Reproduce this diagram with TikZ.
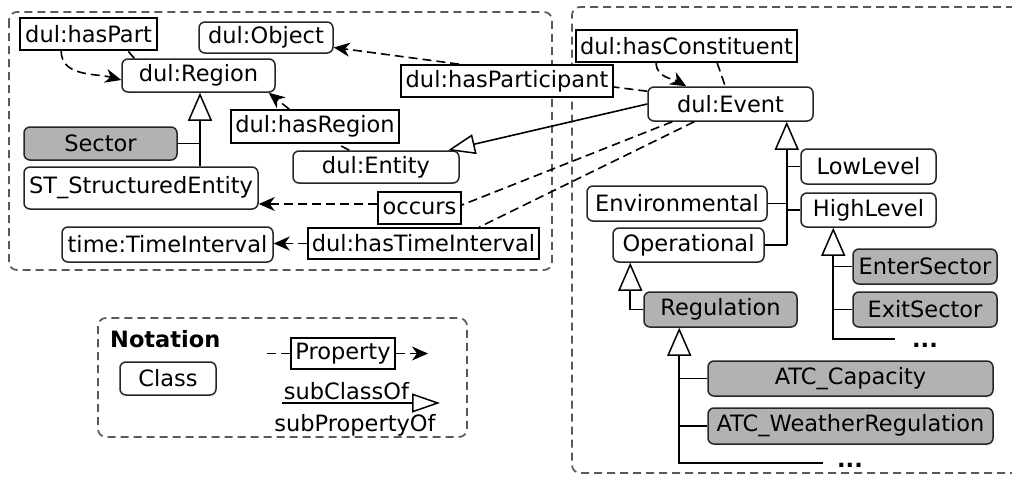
\documentclass[tikz,border=0pt]{standalone}
\usepackage{fontspec}
\setmainfont{DejaVu Sans}
\usetikzlibrary{arrows.meta}

\tikzset{
  txt/.style={font=\fontsize{22.5}{27}\selectfont, inner sep=0pt},
  sz/.style 2 args={minimum width=#1pt, minimum height=#2pt},
  cls/.style={txt, draw=black!85, rounded corners=6pt, fill=white, line width=1.5pt},
  term/.style={cls, fill=black!30},
  prop/.style={txt, draw=black, fill=white, line width=1.7pt},
  rel/.style={line width=1.6pt, dash pattern=on 9pt off 5pt},
  relto/.style={rel, -{Stealth[length=16pt,width=14pt,inset=5pt]}},
  tree/.style={line width=1.6pt},
  isa/.style={tree, -{Triangle[length=28pt,width=24pt,fill=white,line width=1.5pt]}},
  grpframe/.style={draw=black!65, line width=1.7pt, dash pattern=on 8pt off 5pt, rounded corners=8pt},
  dots/.style={font=\fontsize{22.5}{27}\selectfont\bfseries, inner sep=0pt, anchor=base},
}

\begin{document}
\begin{tikzpicture}[x=1pt, y=-1pt]
\fill[white] (0,0) rectangle (1012,479);
\useasboundingbox (0,0) rectangle (1012,479);
\clip (0,0) rectangle (1012,479);

% group frames
\draw[grpframe] (9,12) rectangle (552,270);
\draw[grpframe] (1040,7) -- (572,7) -- (572,473) -- (1040,473);
\draw[grpframe] (98,318) rectangle (467,437);

% ---- upper-level ontology part
\node[prop, sz={137}{32}] (hpart) at (88.5,34) {dul:hasPart};
\node[cls, sz={134}{31}] (obj) at (266,37.5) {dul:Object};
\node[cls, sz={153}{33}] (reg) at (198.5,75.5) {dul:Region};
\node[prop, sz={212}{32}] (hpar) at (507,81) {dul:hasParticipant};
\node[prop, sz={168}{33}] (hreg) at (315,126.5) {dul:hasRegion};
\node[cls, sz={166}{32}] (ent) at (376,167) {dul:Entity};
\node[term, sz={153}{33}] (sec) at (100.5,143.5) {Sector};
\node[cls, sz={234}{42}] (st) at (141,188) {ST\_StructuredEntity};
\node[prop, sz={83}{32}] (occ) at (419.5,208) {occurs};
\node[cls, sz={211}{35}] (ti) at (167.5,244.5) {time:TimeInterval};
\node[prop, sz={231}{31}] (hti) at (423.5,243.5) {dul:hasTimeInterval};

% ---- event taxonomy
\node[prop, sz={221}{32}] (hcon) at (686.5,46) {dul:hasConstituent};
\node[cls, sz={165}{34}] (ev) at (730.5,104) {dul:Event};
\node[cls, sz={135}{35}] (low) at (868.5,166.5) {LowLevel};
\node[cls, sz={135}{34}] (high) at (868.5,210) {HighLevel};
\node[cls, sz={180}{35}] (env) at (677,203.5) {Environmental};
\node[cls, sz={151}{34}] (op) at (688.5,245) {Operational};
\node[term, sz={144}{35}] (enter) at (925,266.5) {EnterSector};
\node[term, sz={144}{35}] (exit) at (925,309.5) {ExitSector};
\node[term, sz={153}{35}] (regu) at (720.5,309.5) {Regulation};
\node[term, sz={285}{35}] (cap) at (850.5,378.5) {ATC\_Capacity};
\node[term, sz={285}{36}] (wea) at (850.5,426) {ATC\_WeatherRegulation};
\node[dots] (more1) at (925,347) {...};
\node[dots] (more2) at (850,467) {...};

% ---- properties
\draw[rel] ([xshift=13pt]reg.north west) -- ([xshift=-30pt]hpart.south east);
\draw[relto] ([xshift=42pt]hpart.south west) to[out=-90,in=165] ([yshift=-4.5pt]reg.west);

\draw[rel] ([yshift=-5pt]ev.north west) -- ([yshift=-6pt]hpar.east);
\draw[relto] ([xshift=59pt]hpar.north west) -- ([yshift=-10pt]obj.east);

\draw[rel] ([xshift=57pt]ent.north west) -- ([xshift=107pt]hreg.south west);
\draw[relto] ([xshift=59pt]hreg.north west) -- ([xshift=-7pt]reg.south east);

\draw[rel] ([xshift=25pt]ev.south west) -- ([yshift=3pt]occ.east);
\draw[relto] ([yshift=4pt]occ.west) -- ([yshift=4pt]occ.west -| st.east);

\draw[rel] ([xshift=47pt]ev.south west) -- ([xshift=172pt]hti.north west);
\draw[relto] (hti.west) -- (hti.west -| ti.east);

\draw[relto] ([xshift=81pt]hcon.south west) to[out=-90,in=150] ([xshift=39pt]ev.north west);
\draw[rel] ([xshift=142pt]hcon.south west) -- ([xshift=78pt]ev.north west);

% ---- subclass links
\draw[tree, -{Triangle[length=27pt,width=20pt,fill=white,line width=1.5pt]}] (ev.west) -- (ent);

\draw[isa] ([xshift=1.5pt]reg.south |- st.north) -- ([xshift=1.5pt]reg.south);
\draw[tree] (sec.east) -- ([xshift=1.5pt]sec.east -| reg.south);

\coordinate (evb) at ([xshift=-27pt]ev.south east);
\draw[isa] (evb |- op.east) -- (evb);
\draw[tree] (op.east) -- (evb |- op.east);
\draw[tree] (env.east) -- (evb |- env.east);
\draw[tree] (low.west) -- (evb |- low.west);
\draw[tree] (high.west) -- (evb |- high.west);

\coordinate (hib) at ([xshift=33pt]high.south west);
\coordinate (hiend) at (895,339);
\draw[isa] (hiend) -| (hib);
\draw[tree] (enter.west) -- (hib |- enter.west);
\draw[tree] (exit.west) -- (hib |- exit.west);

\draw[isa] (regu.west) -| ([xshift=18pt]op.south west);

\coordinate (rgb) at ([xshift=36pt]regu.south west);
\coordinate (rgend) at (823,463);
\draw[isa] (rgend) -| (rgb);
\draw[tree] (cap.west) -- (rgb |- cap.west);
\draw[tree] (wea.west) -- (rgb |- wea.west);

% ---- legend
\node[txt, font=\fontsize{22.5}{27}\selectfont\bfseries, anchor=base west] (notat) at (110,347) {Notation};
\node[cls, sz={96}{33}] (klass) at (168,378.5) {Class};
\node[prop, sz={104}{31}] (pr) at (343,353.5) {Property};
\coordinate (pra) at (267,353.5);
\coordinate (prb) at (428,353.5);
\draw[rel] (pra) -- (pr.west);
\draw[relto] (pr.east) -- (prb);
\coordinate (sca) at (282,403);
\coordinate (scb) at (440,403);
\draw[tree, -{Triangle[length=28pt,width=19pt,fill=white,line width=1.5pt]}] (sca) -- (scb);
\node[txt, anchor=base] (scl) at (346.5,399) {subClassOf};
\node[txt, anchor=base] (spo) at (355,431) {subPropertyOf};
\end{tikzpicture}
\end{document}
